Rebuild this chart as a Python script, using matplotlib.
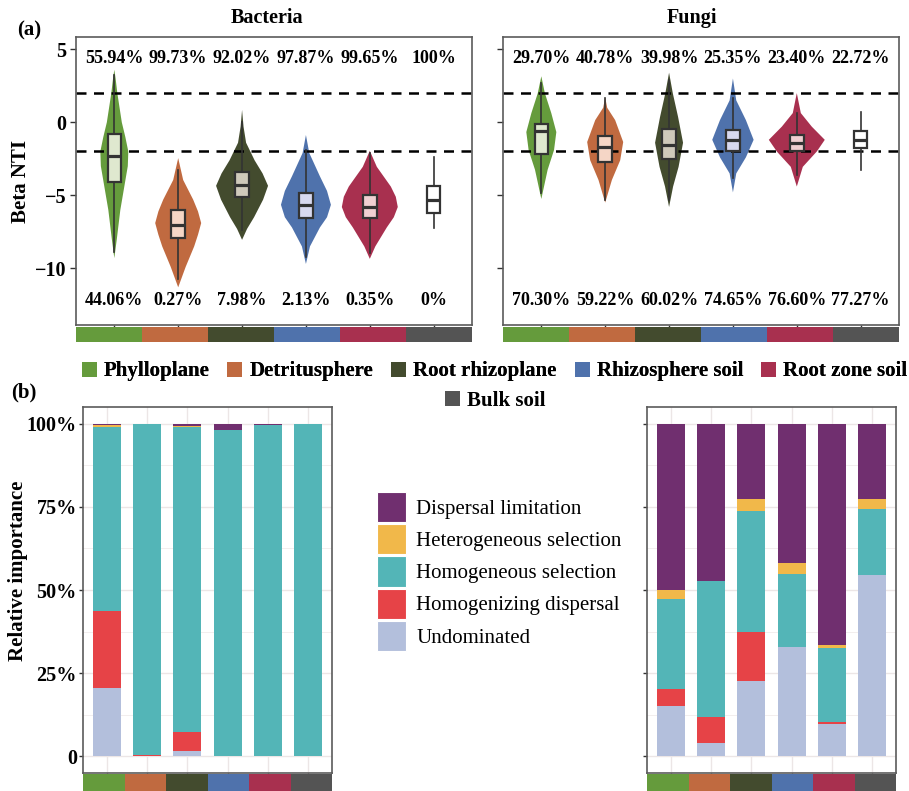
import numpy as np
import matplotlib
matplotlib.use('Agg')
import matplotlib.pyplot as plt
from matplotlib.patches import Patch

plt.rcParams['font.family'] = ['Liberation Serif', 'DejaVu Serif']
plt.rcParams['axes.unicode_minus'] = True

habitats = ['Phylloplane', 'Detritusphere', 'Root rhizoplane',
            'Rhizosphere soil', 'Root zone soil', 'Bulk soil']
habitat_colors = ['#659b3c', '#c06a40', '#434b2e', '#4f72ac', '#a8304f', '#545454']
box_fills = ['#dfe8cf', '#f5d6c6', '#cfc9bb', '#d8d9ef', '#efcfd1', '#ffffff']

# Beta NTI box statistics: (whislo, q1, median, q3, whishi)
bac_box = [(-8.9, -4.1, -2.3, -0.8, 3.25),
           (-10.7, -7.9, -7.0, -6.0, -3.3),
           (-7.4, -5.1, -4.3, -3.4, 0.0),
           (-9.2, -6.55, -5.65, -4.85, -1.9),
           (-8.95, -6.55, -5.8, -5.0, -2.1),
           (-7.25, -6.2, -5.3, -4.35, -2.4)]
fun_box = [(-4.85, -2.2, -0.6, -0.12, 2.7),
           (-5.3, -2.7, -1.7, -0.94, 1.66),
           (-5.3, -2.5, -1.56, -0.47, 2.9),
           (-3.8, -1.97, -1.2, -0.53, 1.66),
           (-3.6, -1.97, -1.43, -0.87, 0.63),
           (-3.3, -1.76, -1.2, -0.6, 0.7)]

# violin outlines: Beta NTI levels and the half-width of the body there
bac_violin_y = [[3.6, 3.0, 2.0, 0.0, -1.0, -2.0, -3.0, -4.0, -6.0, -8.0, -9.3],
                [-2.45, -3.95, -5.3, -6.1, -6.9, -7.7, -8.5, -9.9, -11.3],
                [0.85, -0.3, -1.4, -2.6, -3.5, -4.35, -5.3, -6.5, -7.3, -8.05],
                [-0.87, -2.1, -3.7, -4.7, -5.65, -6.5, -7.2, -8.5, -9.7],
                [-1.95, -3.05, -4.4, -5.1, -5.8, -6.5, -7.2, -8.5, -9.35],
                None]
bac_violin_w = [[0, 0.02, 0.047, 0.117, 0.172, 0.219, 0.211, 0.172, 0.094, 0.039, 0],
                [0, 0.078, 0.235, 0.31, 0.36, 0.31, 0.25, 0.117, 0],
                [0, 0.023, 0.063, 0.196, 0.321, 0.407, 0.329, 0.188, 0.078, 0],
                [0, 0.052, 0.219, 0.33, 0.391, 0.33, 0.219, 0.063, 0],
                [0, 0.11, 0.329, 0.407, 0.438, 0.376, 0.266, 0.086, 0],
                None]
fun_violin_y = [[3.15, 2.0, 0.63, -0.67, -1.9, -3.25, -5.25],
                [1.7, 1.0, 0.15, -1.35, -2.6, -3.95, -5.5],
                [3.4, 2.0, 0.37, -1.4, -3.05, -4.4, -5.8],
                [3.0, 1.5, 0.15, -1.2, -2.4, -3.5, -4.8],
                [2.0, 0.63, -0.3, -1.2, -2.0, -3.05, -4.4],
                None]
fun_violin_w = [[0, 0.055, 0.156, 0.235, 0.199, 0.099, 0],
                [0, 0.031, 0.156, 0.282, 0.235, 0.105, 0],
                [0, 0.058, 0.141, 0.219, 0.149, 0.063, 0],
                [0, 0.052, 0.203, 0.324, 0.203, 0.052, 0],
                [0, 0.063, 0.235, 0.438, 0.313, 0.094, 0],
                None]

# share of pairs with |Beta NTI| > 2 (upper) and <= 2 (lower)
bac_upper = [55.94, 99.73, 92.02, 97.87, 99.65, 100]
bac_lower = [44.06, 0.27, 7.98, 2.13, 0.35, 0]
fun_upper = [29.70, 40.78, 39.98, 25.35, 23.40, 22.72]
fun_lower = [70.30, 59.22, 60.02, 74.65, 76.60, 77.27]

# community assembly processes, stacked bottom to top
processes = ['Undominated', 'Homogenizing dispersal', 'Homogeneous selection',
             'Heterogeneous selection', 'Dispersal limitation']
process_colors = ['#b3bfdc', '#e64347', '#53b5b7', '#f1b84a', '#702f6f']

bac_undominated = [20.5, 0.1, 1.7, 0.2, 0.0, 0.0]
bac_homog_dispersal = [23.3, 0.17, 5.5, 0.0, 0.0, 0.0]
bac_homog_selection = [55.24, 99.73, 91.92, 97.87, 99.65, 100.0]
bac_hetero_selection = [0.70, 0.0, 0.10, 0.0, 0.0, 0.0]
bac_dispersal_lim = [0.26, 0.0, 0.78, 1.93, 0.35, 0.0]

fun_undominated = [15.1, 4.1, 22.8, 32.9, 9.6, 54.6]
fun_homog_dispersal = [5.1, 7.7, 14.7, 0.0, 0.6, 0.0]
fun_homog_selection = [27.2, 40.78, 36.1, 22.05, 22.3, 19.6]
fun_hetero_selection = [2.5, 0.0, 3.88, 3.3, 1.1, 3.12]
fun_dispersal_lim = [50.1, 47.42, 22.52, 41.75, 66.4, 22.68]

W, H = 909, 791
fig = plt.figure(figsize=(W / 100, H / 100), dpi=100)


def rect(x0, y0, x1, y1):
    # pixel box (top-left origin) -> figure fraction
    return [x0 / W, 1 - y1 / H, (x1 - x0) / W, (y1 - y0) / H]


def pct(v):
    return f'{v:.0f}%' if float(v).is_integer() else f'{v:.2f}%'


def add_strip(box):
    sax = fig.add_axes(box)
    sax.bar(np.arange(6), 1, width=1, align='edge', color=habitat_colors, linewidth=0)
    sax.set_xlim(0, 6)
    sax.set_ylim(0, 1)
    sax.axis('off')


def beta_panel(box, stats, vy, vw, upper, lower, labels):
    ax = fig.add_axes(box)
    x = np.arange(1, 7)
    for i in range(6):
        if vy[i] is None:
            continue
        ys = np.array(vy[i])
        ws = np.array(vw[i])
        vst = [dict(coords=ys, vals=ws, mean=stats[i][2], median=stats[i][2],
                    min=ys.min(), max=ys.max())]
        parts = ax.violin(vst, positions=[x[i]], widths=[2 * ws.max()],
                          showmeans=False, showextrema=False, showmedians=False)
        for b in parts['bodies']:
            b.set_facecolor(habitat_colors[i])
            b.set_edgecolor('none')
            b.set_alpha(1)
            b.set_zorder(1)
    for yv in (2, -2):
        ax.axhline(yv, color='black', lw=1.8, ls=(0, (4, 3)), zorder=1.5)
    bstats = [dict(whislo=s[0], q1=s[1], med=s[2], q3=s[3], whishi=s[4], fliers=[])
              for s in stats]
    bp = ax.bxp(bstats, positions=x, widths=0.21, patch_artist=True,
                showcaps=False, showfliers=False, zorder=3,
                boxprops=dict(edgecolor='#333333', linewidth=1.6),
                medianprops=dict(color='#333333', linewidth=2.3),
                whiskerprops=dict(color='#333333', linewidth=1.2))
    for patch, fc in zip(bp['boxes'], box_fills):
        patch.set_facecolor(fc)
    for i in range(6):
        ax.text(x[i], 4.35, pct(upper[i]), ha='center', va='center',
                fontsize=13, fontweight='bold')
        ax.text(x[i], -12.2, pct(lower[i]), ha='center', va='center',
                fontsize=13, fontweight='bold')
    ax.set_xlim(0.4, 6.6)
    ax.set_ylim(-13.88, 5.84)
    ax.set_xticks(x)
    ax.set_xticklabels([])
    ax.set_yticks([5, 0, -5, -10])
    if labels:
        ax.set_yticklabels(['5', '0', '\u22125', '\u221210'], fontsize=14.5,
                           fontweight='bold')
    else:
        ax.set_yticklabels([])
    ax.tick_params(length=4, width=1, color='#333333', pad=3)
    for s in ax.spines.values():
        s.set_color('#5b5b5b')
        s.set_linewidth(1.2)
    return ax


def process_panel(box, layers, labels):
    ax = fig.add_axes(box)
    x = np.arange(1, 7)
    bottom = np.zeros(6)
    for vals, c in zip(layers, process_colors):
        ax.bar(x, vals, bottom=bottom, width=0.7, color=c, linewidth=0, zorder=2)
        bottom += np.array(vals)
    ax.set_xlim(0.4, 6.6)
    ax.set_ylim(-5, 105)
    ax.set_xticks(x)
    ax.set_xticklabels([])
    ax.set_yticks([0, 25, 50, 75, 100])
    ax.set_yticks([12.5, 37.5, 62.5, 87.5], minor=True)
    if labels:
        ax.set_yticklabels(['0', '25%', '50%', '75%', '100%'], fontsize=14.5,
                           fontweight='bold')
    else:
        ax.set_yticklabels([])
    ax.set_axisbelow(True)
    ax.grid(which='major', color='#ece6e6', lw=1.0, zorder=0)
    ax.grid(which='minor', axis='y', color='#f2eeee', lw=0.7, zorder=0)
    ax.tick_params(which='major', length=3, width=1, color='#333333', pad=1.5)
    ax.tick_params(which='minor', length=0)
    for s in ax.spines.values():
        s.set_color('#5b5b5b')
        s.set_linewidth(1.2)
    return ax


beta_panel(rect(76, 37, 472, 325), bac_box, bac_violin_y, bac_violin_w,
           bac_upper, bac_lower, True)
beta_panel(rect(503, 37, 899, 325), fun_box, fun_violin_y, fun_violin_w,
           fun_upper, fun_lower, False)
add_strip(rect(76, 327, 472, 342))
add_strip(rect(503, 327, 899, 342))

process_panel(rect(83, 407, 332, 773),
              [bac_undominated, bac_homog_dispersal, bac_homog_selection,
               bac_hetero_selection, bac_dispersal_lim], True)
process_panel(rect(647, 407, 896, 773),
              [fun_undominated, fun_homog_dispersal, fun_homog_selection,
               fun_hetero_selection, fun_dispersal_lim], False)
add_strip(rect(83, 774, 332, 791))
add_strip(rect(647, 774, 896, 791))

# titles, panel tags and axis labels
fig.text(267 / W, 1 - 18 / H, 'Bacteria', ha='center', va='center',
         fontsize=14.5, fontweight='bold')
fig.text(692 / W, 1 - 18 / H, 'Fungi', ha='center', va='center',
         fontsize=14.5, fontweight='bold')
fig.text(29 / W, 1 - 30 / H, '(a)', ha='center', va='center',
         fontsize=15, fontweight='bold')
fig.text(24 / W, 1 - 392 / H, '(b)', ha='center', va='center',
         fontsize=15, fontweight='bold')
fig.text(21 / W, 1 - 181 / H, 'Beta NTI', ha='center', va='center',
         rotation=90, fontsize=15, fontweight='bold')
fig.text(18.5 / W, 1 - 571 / H, 'Relative importance', ha='center', va='center',
         rotation=90, fontsize=15, fontweight='bold')

# habitat legend: five entries on the first row, bulk soil centred below
hab_handles = [Patch(facecolor=c, edgecolor='none') for c in habitat_colors]
leg_kw = dict(frameon=False, handlelength=0.72, handleheight=0.72,
              handletextpad=0.35, columnspacing=0.85, borderpad=0,
              prop=dict(size=15, weight='bold'))
leg1 = fig.legend(hab_handles[:5], habitats[:5], ncol=5, loc='center',
                  bbox_to_anchor=(494.5 / W, 1 - 371.5 / H), **leg_kw)
fig.add_artist(leg1)
fig.legend(hab_handles[5:], habitats[5:], ncol=1, loc='center',
           bbox_to_anchor=(495 / W, 1 - 401 / H), **leg_kw)

# process legend, listed top of stack first
proc_handles = [Patch(facecolor=c, edgecolor='white', linewidth=0.8)
                for c in process_colors[::-1]]
fig.legend(proc_handles, processes[::-1], loc='upper left',
           bbox_to_anchor=(377 / W, 1 - 492 / H), frameon=False,
           handlelength=1.39, handleheight=1.85, handletextpad=0.5,
           labelspacing=0.1, borderpad=0, borderaxespad=0,
           prop=dict(size=15))

fig.savefig('out.png', dpi=100, facecolor='white')
